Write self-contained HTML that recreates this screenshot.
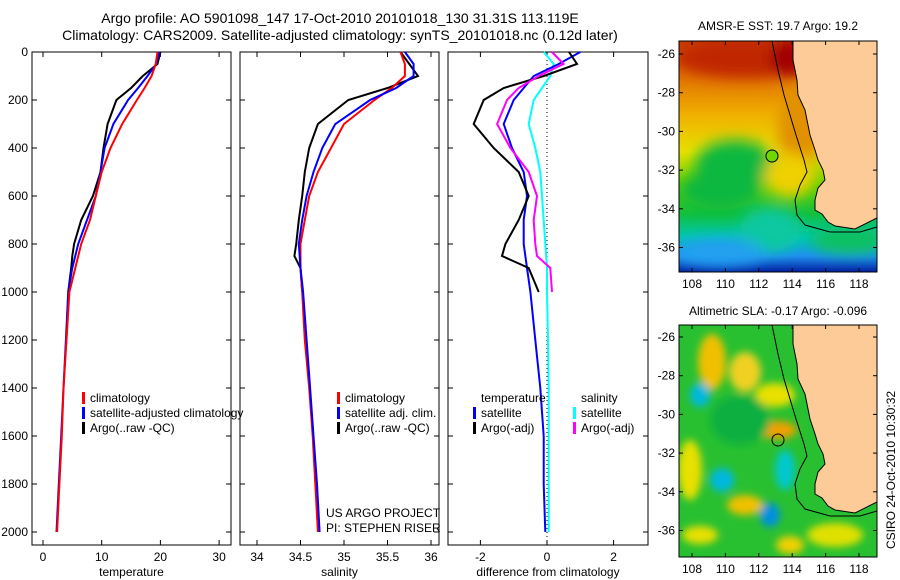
<!DOCTYPE html>
<html><head><meta charset="utf-8">
<style>
body{margin:0;background:#fff;}
svg{display:block;font-family:"Liberation Sans",sans-serif;}
text{font-size:12px;fill:#000;}
.ttl{font-size:14px;}
</style></head>
<body>
<svg id="fig" width="900" height="580" viewBox="0 0 900 580">
<defs>
<filter id="blur" x="-50%" y="-50%" width="200%" height="200%"><feGaussianBlur stdDeviation="7"/></filter>
<filter id="blur2" x="-50%" y="-50%" width="200%" height="200%"><feGaussianBlur stdDeviation="4"/></filter>
<linearGradient id="sstg" x1="0" y1="0" x2="0" y2="1">
<stop offset="0" stop-color="#c83c00"/><stop offset="0.15" stop-color="#e07000"/><stop offset="0.32" stop-color="#f0b000"/>
<stop offset="0.48" stop-color="#e8e000"/><stop offset="0.62" stop-color="#60d000"/><stop offset="0.75" stop-color="#10c040"/>
<stop offset="0.85" stop-color="#00c8b0"/><stop offset="0.93" stop-color="#2090f0"/><stop offset="1" stop-color="#0020a0"/>
</linearGradient>
<clipPath id="c1"><rect x="679" y="41" width="198" height="231"/></clipPath>
<clipPath id="c2"><rect x="679" y="325" width="198" height="232"/></clipPath>
</defs>

<text class="ttl" x="340" y="23" text-anchor="middle">Argo profile: AO 5901098_147 17-Oct-2010 20101018_130 31.31S 113.119E</text>
<text class="ttl" x="340" y="40" text-anchor="middle">Climatology: CARS2009. Satellite-adjusted climatology: synTS_20101018.nc (0.12d later)</text>

<g id="p1"></g>
<g id="p2"></g>
<g id="p3"></g>

<!-- SST map -->
<g>
<text x="778" y="30" text-anchor="middle">AMSR-E SST: 19.7 Argo: 19.2</text>
<g clip-path="url(#c1)">
<rect x="679" y="41" width="198" height="231" fill="url(#sstg)"/>
<g filter="url(#blur)">
<ellipse cx="745" cy="58" rx="70" ry="20" fill="#c02800"/>
<ellipse cx="790" cy="58" rx="20" ry="18" fill="#a00000"/>
<ellipse cx="800" cy="130" rx="22" ry="40" fill="#e09000"/>
<ellipse cx="735" cy="165" rx="40" ry="25" fill="#10b840"/>
<ellipse cx="720" cy="190" rx="40" ry="20" fill="#10b840"/>
<ellipse cx="790" cy="175" rx="25" ry="22" fill="#f0d000"/>
<ellipse cx="770" cy="230" rx="30" ry="22" fill="#10c8a0"/>
<ellipse cx="850" cy="240" rx="40" ry="14" fill="#10c060"/>
<ellipse cx="720" cy="252" rx="45" ry="14" fill="#20a0f0"/>
</g>
<polygon fill="#fccb98" stroke="#000" stroke-width="1" points="793,41 793,60 797,80 798,95 805,110 810,135 815,150 818,160 823,170 825,180 818,188 815,200 815,210 822,214 828,222 835,226 855,229 877,218 877,41"/>
<polyline fill="none" stroke="#000" stroke-width="1" points="772,41 778,70 784,95 790,115 796,135 804,160 807,172 800,185 795,200 797,215 805,225 830,232 860,232 877,227"/>
</g>
<circle cx="772" cy="156" r="6" fill="#70d800" stroke="#000"/>
<rect x="679" y="41" width="198" height="231" fill="none" stroke="#000"/>
<g id="m1ax"></g>
</g>

<!-- SLA map -->
<g>
<text x="778" y="315" text-anchor="middle">Altimetric SLA: -0.17 Argo: -0.096</text>
<g clip-path="url(#c2)">
<rect x="679" y="325" width="198" height="232" fill="#28c030"/>
<g filter="url(#blur2)">
<ellipse cx="712" cy="362" rx="14" ry="28" fill="#f0c000"/>
<ellipse cx="745" cy="372" rx="16" ry="20" fill="#f0d020"/>
<ellipse cx="775" cy="395" rx="20" ry="12" fill="#e8e000"/>
<ellipse cx="777" cy="430" rx="20" ry="9" fill="#f0a000"/>
<ellipse cx="700" cy="395" rx="10" ry="12" fill="#00b8e0"/>
<ellipse cx="785" cy="470" rx="10" ry="20" fill="#00c8d0"/>
<ellipse cx="722" cy="480" rx="12" ry="12" fill="#00b8e0"/>
<ellipse cx="770" cy="515" rx="10" ry="12" fill="#0090e0"/>
<ellipse cx="690" cy="470" rx="12" ry="30" fill="#e8e000"/>
<ellipse cx="745" cy="505" rx="18" ry="10" fill="#f0c000"/>
<ellipse cx="700" cy="535" rx="18" ry="9" fill="#e8e000"/>
<ellipse cx="790" cy="545" rx="14" ry="9" fill="#f0d000"/>
<ellipse cx="835" cy="535" rx="28" ry="12" fill="#e0e000"/>
<ellipse cx="740" cy="420" rx="30" ry="25" fill="#10b040"/>
</g>
<polygon fill="#fccb98" stroke="#000" stroke-width="1" points="793,325 793,344 797,364 798,379 805,394 810,419 815,434 818,444 823,454 825,464 818,472 815,484 815,494 822,498 828,506 835,510 855,513 877,502 877,325"/>
<polyline fill="none" stroke="#000" stroke-width="1" points="772,325 778,354 784,379 790,399 796,419 804,444 807,456 800,469 795,484 797,499 805,509 830,516 860,516 877,511"/>
</g>
<circle cx="778" cy="440" r="6" fill="none" stroke="#000"/>
<rect x="679" y="325" width="198" height="232" fill="none" stroke="#000"/>
<g id="m2ax"></g>
</g>
<text transform="translate(895,470) rotate(-90)" text-anchor="middle">CSIRO 24-Oct-2010 10:30:32</text>
</svg>
<script>
// ---- data ----
const depthClim = [0,50,100,150,200,300,400,500,600,700,800,900,1000,1200,1400,1600,1800,2000];
const tempClim  = [19.5,19.2,18.5,17.3,16,13.5,11.5,10,9,8,6.5,5.5,4.5,4,3.5,3.2,2.8,2.4];
const tempSat   = [19.8,19.3,17.8,16.2,14.5,12,10.5,9.8,9,7.5,6,5,4.3,3.9,3.5,3.1,2.7,2.3];
const salClim   = [35.65,35.7,35.7,35.55,35.35,35.0,34.85,34.7,34.6,34.55,34.5,34.5,34.52,34.55,34.6,34.64,34.67,34.7];
const salSat    = [35.7,35.8,35.8,35.6,35.3,34.9,34.75,34.65,34.57,34.52,34.48,34.5,34.53,34.57,34.61,34.65,34.69,34.72];
const depthArgo = [0,50,100,150,200,300,400,500,600,700,800,850,900,1000];
const tempArgo  = [20,19.5,17,15,12.5,11,10.3,9.8,8.5,6.5,5.3,5.0,4.8,4.3];
const salArgo   = [35.65,35.75,35.85,35.5,35.05,34.7,34.6,34.55,34.52,34.48,34.45,34.43,34.5,34.52];
const dTempSat  = [1,0.35,-0.4,-0.7,-1.0,-1.3,-1.05,-0.7,-0.6,-0.7,-0.7,-0.6,-0.5,-0.35,-0.2,-0.1,-0.1,-0.05];
const dSalSat   = [-0.1,0.2,0.1,-0.15,-0.4,-0.55,-0.35,-0.2,-0.15,-0.1,-0.05,0,0,0.03,0.05,0.05,0.05,0.05];
const dTempArgo = [0.66,0.9,-0.1,-1.3,-1.9,-2.2,-1.6,-0.85,-0.55,-0.85,-1.25,-1.35,-0.55,-0.25];
const dSalArgo  = [0.15,0.5,-0.25,-0.85,-1.2,-1.5,-1.1,-0.55,-0.3,-0.4,-0.35,-0.3,0.1,0.15];
const depthTicks = [0,200,400,600,800,1000,1200,1400,1600,1800,2000];
const tTicks = [0,10,20,30];
const sTicks = [34,34.5,35,35.5,36];
const dTicks = [-2,0,2];
const lonTicks = [108,110,112,114,116,118];
const latTicks = [-26,-28,-30,-32,-34,-36];

const NS='http://www.w3.org/2000/svg';
function mk(tag,attrs,parent,txt){const e=document.createElementNS(NS,tag);for(const k in attrs)e.setAttribute(k,attrs[k]);if(txt!==undefined)e.textContent=txt;parent.appendChild(e);return e;}
const Y = d => 52 + d*0.24;
const PTOP=52, PBOT=545;

function panel(g,x0,x1,xs,ticks,fmt,label,showY){
  mk('rect',{x:x0,y:PTOP,width:x1-x0,height:PBOT-PTOP,fill:'none',stroke:'#000'},g);
  ticks.forEach(t=>{const x=xs(t);
    mk('line',{x1:x,x2:x,y1:PBOT,y2:PBOT-5,stroke:'#000'},g);
    mk('line',{x1:x,x2:x,y1:PTOP,y2:PTOP+5,stroke:'#000'},g);
    const tl=mk('text',{x:x,y:PBOT+16,'text-anchor':'middle'},g,fmt(t));
    
    });
  depthTicks.forEach(d=>{const y=Y(d);
    mk('line',{x1:x0,x2:x0+5,y1:y,y2:y,stroke:'#000'},g);
    mk('line',{x1:x1,x2:x1-5,y1:y,y2:y,stroke:'#000'},g);
    if(showY){const tl=mk('text',{x:28,y:y+4,'text-anchor':'end'},g,String(d));
      
      }});
  const xl=mk('text',{x:(x0+x1)/2,y:576,'text-anchor':'middle'},g,label);
  
  
}
function line(g,xs,vals,deps,color,name){
  const p=mk('polyline',{points:vals.map((v,i)=>xs(v).toFixed(1)+','+Y(deps[i]).toFixed(1)).join(' '),fill:'none',stroke:color,'stroke-width':2},g);
  
  
}
function legend(g,x,y,color,txt){
  mk('rect',{x:x,y:y-10,width:3,height:12,fill:color},g);
  const t=mk('text',{x:x+8,y:y},g,txt);
  
  
}
// temperature
const g1=document.getElementById('p1');
const xT=v=>43+v*5.87;
panel(g1,32,231,xT,tTicks,String,'temperature',true);
line(g1,xT,tempArgo,depthArgo,'#000','argo-temperature-line');
line(g1,xT,tempSat,depthClim,'#00f','sat-temperature-line');
line(g1,xT,tempClim,depthClim,'#f00','clim-temperature-line');
legend(g1,82,402,'#f00','climatology');
legend(g1,82,417,'#00f','satellite-adjusted climatology');
legend(g1,82,432,'#000','Argo(..raw -QC)');
// salinity
const g2=document.getElementById('p2');
const xS=v=>257+(v-34)*87;
panel(g2,240,439,xS,sTicks,String,'salinity',false);
line(g2,xS,salArgo,depthArgo,'#000','argo-salinity-line');
line(g2,xS,salClim,depthClim,'#f00','clim-salinity-line');
line(g2,xS,salSat,depthClim,'#00f','sat-salinity-line');
legend(g2,337,402,'#f00','climatology');
legend(g2,337,417,'#00f','satellite adj. clim.');
legend(g2,337,432,'#000','Argo(..raw -QC)');
const a1=mk('text',{x:326,y:517},g2,'US ARGO PROJECT');


const a2=mk('text',{x:326,y:532},g2,'PI: STEPHEN RISER');


// difference
const g3=document.getElementById('p3');
const xD=v=>547+v*33.3;
panel(g3,448,648,xD,dTicks,String,'difference from climatology',false);
mk('line',{x1:xD(0),x2:xD(0),y1:PTOP,y2:PBOT,stroke:'#000','stroke-dasharray':'1,3'},g3);
line(g3,xD,dSalSat,depthClim,'#0ff','sat-salinity-diff-line');
line(g3,xD,dTempSat,depthClim,'#00f','sat-temperature-diff-line');
line(g3,xD,dTempArgo,depthArgo,'#000','argo-temperature-diff-line');
line(g3,xD,dSalArgo,depthArgo,'#f0f','argo-salinity-diff-line');
const lt=mk('text',{x:481,y:402},g3,'temperature');


const ls=mk('text',{x:581,y:402},g3,'salinity');


legend(g3,473,417,'#00f','satellite');
legend(g3,473,432,'#000','Argo(-adj)');
legend(g3,573,417,'#0ff','satellite');
legend(g3,573,432,'#f0f','Argo(-adj)');
// map axes
function mapAxes(id,y0,y1,latY0){
  const g=document.getElementById(id);
  lonTicks.forEach(l=>{const x=692+(l-108)*16.7;
    mk('line',{x1:x,x2:x,y1:y1,y2:y1-4,stroke:'#000'},g);
    mk('line',{x1:x,x2:x,y1:y0,y2:y0+4,stroke:'#000'},g);
    const t=mk('text',{x:x,y:y1+16,'text-anchor':'middle'},g,String(l));
    
    });
  latTicks.forEach(l=>{const y=latY0+(-26-l)*19.35;
    mk('line',{x1:679,x2:683,y1:y,y2:y,stroke:'#000'},g);
    mk('line',{x1:877,x2:873,y1:y,y2:y,stroke:'#000'},g);
    const t=mk('text',{x:675,y:y+4,'text-anchor':'end'},g,String(l));
    
    });
}
mapAxes('m1ax',41,272,54);
mapAxes('m2ax',325,557,337);
</script>
</body></html>
